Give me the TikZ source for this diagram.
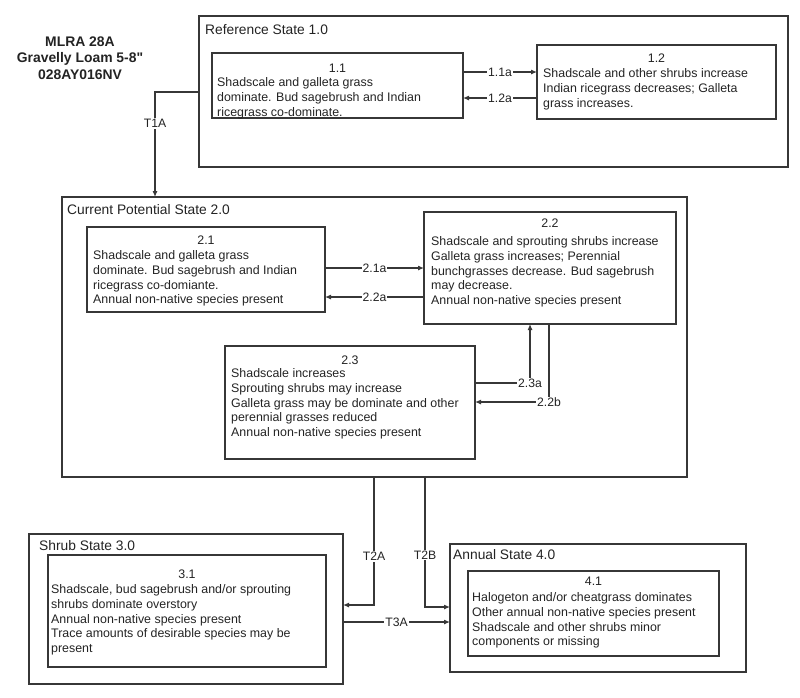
\documentclass[tikz,border=0pt]{standalone}
\usepackage{fontspec}
\setmainfont{Liberation Sans}[Ligatures=TeXOff]
\usetikzlibrary{arrows.meta,calc}
\definecolor{ln}{RGB}{55,55,55}
\definecolor{tx}{RGB}{35,35,35}
\begin{document}
\begin{tikzpicture}[x=1pt,y=-1pt,
  box/.style={draw=ln, line width=1.2pt, anchor=north west, inner sep=0pt, outer sep=0pt},
  txt/.style={anchor=base west, inner sep=0pt, align=left, font=\fontsize{12.4}{14.8}\selectfont, text=tx},
  num/.style={inner sep=0pt, font=\fontsize{12.4}{14.8}\selectfont, text=tx},
  ttl/.style={anchor=west, inner sep=0pt, font=\fontsize{13.8}{16}\selectfont, text=tx},
  conn/.style={draw=ln, line width=1.1pt},
  arr/.style={conn, -{Latex[length=6pt,width=5pt]}},
  lbl/.style={fill=white, inner sep=1pt, font=\fontsize{12.2}{14}\selectfont, text=tx}]
\useasboundingbox (0,0) rectangle (800,697);

% title
\node[font=\bfseries\fontsize{13.9}{16.5}\selectfont, align=center, text=tx] (title) at (80,58) {MLRA 28A\\Gravelly Loam 5-8"\\028AY016NV};

% state boxes
\node[box, minimum width=589pt, minimum height=151pt] (R1) at (199,16) {};
\node[box, minimum width=625pt, minimum height=280pt] (R2) at (62,197) {};
\node[box, minimum width=314pt, minimum height=150pt] (R3) at (29,534) {};
\node[box, minimum width=296pt, minimum height=128pt] (R4) at (450,544) {};

\node[ttl] (l1) at (205,30) {Reference State 1.0};
\node[ttl] (l2) at (67,210) {Current Potential State 2.0};
\node[ttl] (l3) at (39,546) {Shrub State 3.0};
\node[ttl] (l4) at (453,555) {Annual State 4.0};

% community boxes
\node[box, minimum width=251pt, minimum height=65pt] (b11) at (212,53) {};
\node[box, minimum width=239pt, minimum height=74pt] (b12) at (537,45) {};
\node[box, minimum width=238pt, minimum height=85pt] (b21) at (87,227) {};
\node[box, minimum width=252pt, minimum height=112pt] (b22) at (424,212) {};
\node[box, minimum width=250pt, minimum height=113pt] (b23) at (225,346) {};
\node[box, minimum width=278pt, minimum height=112pt] (b31) at (48,555) {};
\node[box, minimum width=251pt, minimum height=85pt] (b41) at (468,571) {};

\node[num] (n11) at ($(b11.north)+(0,15)$) {1.1};
\node[num] (n12) at ($(b12.north)+(0,13)$) {1.2};
\node[num] (n21) at ($(b21.north)+(0,13)$) {2.1};
\node[num] (n22) at ($(b22.north)+(0,11)$) {2.2};
\node[num] (n23) at ($(b23.north)+(0,14)$) {2.3};
\node[num] (n31) at ($(b31.north)+(0,19)$) {3.1};
\node[num] (n41) at ($(b41.north)+(0,10)$) {4.1};

% text nodes: anchored at the baseline of their last line
\node[txt] (x11) at (217,116.1) {Shadscale and galleta grass\\dominate. Bud sagebrush and Indian\\ricegrass co-dominate.};
\node[txt] (x12) at (543,107.1) {Shadscale and other shrubs increase\\Indian ricegrass decreases; Galleta\\grass increases.};
\node[txt] (x21) at (93,303.9) {Shadscale and galleta grass\\dominate. Bud sagebrush and Indian\\ricegrass co-domiante.\\Annual non-native species present};
\node[txt] (x22) at (431,304.7) {Shadscale and sprouting shrubs increase\\Galleta grass increases; Perennial\\bunchgrasses decrease. Bud sagebrush\\may decrease.\\Annual non-native species present};
\node[txt] (x23) at (231,436.7) {Shadscale increases\\Sprouting shrubs may increase\\Galleta grass may be dominate and other\\perennial grasses reduced\\Annual non-native species present};
\node[txt] (x31) at (51,652.7) {Shadscale, bud sagebrush and/or sprouting\\shrubs dominate overstory\\Annual non-native species present\\Trace amounts of desirable species may be\\present};
\node[txt] (x41) at (472,645.9) {Halogeton and/or cheatgrass dominates\\Other annual non-native species present\\Shadscale and other shrubs minor\\components or missing};

% connectors
\draw[arr] (b11.east |- 0,72) -- node[lbl]{1.1a} (b12.west |- 0,72);
\draw[arr] (b12.west |- 0,98) -- node[lbl]{1.2a} (b11.east |- 0,98);
\coordinate (c1) at (155,92);
\draw[arr] (R1.west |- c1) -- (c1) -- node[lbl, pos=0.3]{T1A} (c1 |- R2.north);

\draw[arr] (b21.east |- 0,268) -- node[lbl]{2.1a} (b22.west |- 0,268);
\draw[arr] (b22.west |- 0,297) -- node[lbl]{2.2a} (b21.east |- 0,297);
\draw[arr] (b23.east |- 0,383) -| node[lbl, pos=0.5]{2.3a} (b22.south -| 530,0);
\draw[arr] (b22.south -| 549,0) |- node[lbl, pos=0.5]{2.2b} (b23.east |- 0,402);

\draw[arr] (R2.south -| 374,0) |- node[lbl, pos=0.31]{T2A} (R3.east |- 0,605);
\draw[arr] (R2.south -| 425,0) |- node[lbl, pos=0.30]{T2B} (R4.west |- 0,607);
\draw[arr] (R3.east |- 0,622) -- node[lbl]{T3A} (R4.west |- 0,622);
\end{tikzpicture}
\end{document}
